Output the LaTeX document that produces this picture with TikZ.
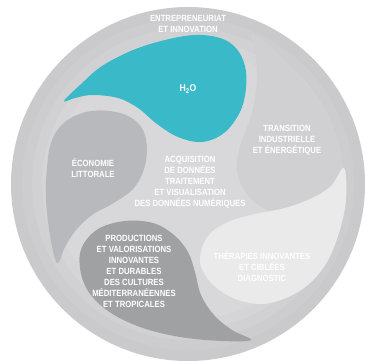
\documentclass[tikz,border=0pt]{standalone}
\usepackage{fontspec}
\setmainfont{Liberation Sans}[FakeStretch=0.86]
\definecolor{tealblob}{RGB}{58,186,201}
\definecolor{econblob}{RGB}{184,185,188}
\definecolor{prodblob}{RGB}{160,161,163}
\definecolor{therablob}{RGB}{234,234,235}
\definecolor{transblob}{RGB}{208,208,210}
\definecolor{ringa}{RGB}{202,202,204}
\definecolor{ringb}{RGB}{205,205,207}
\definecolor{ringc}{RGB}{209,209,211}
\definecolor{ringd}{RGB}{213,213,215}
\definecolor{ringe}{RGB}{216,216,218}
\tikzset{
  lbl/.style={text=white, align=center, inner sep=0pt, font=\fontsize{9}{11}\selectfont\bfseries}
}
\begin{document}
\begin{tikzpicture}[x=1pt,y=-1pt]
\useasboundingbox (0,0) rectangle (365,362);
\coordinate (O) at (188,184);
% outer disc with gently lighter centre
\fill[ringa] (O) circle (177);
\fill[ringb] (O) circle (166);
\fill[ringc] (O) circle (156);
\fill[ringd] (O) circle (146);
\fill[ringe] (O) circle (136);
% transition blob (right, tail up)
\fill[transblob] plot[smooth cycle, tension=0.6] coordinates {
  (252,34) (272,48) (295,72) (318,102) (334,132) (341,160) (336,186)
  (318,206) (292,215) (265,209) (246,193) (237,170) (240,146) (249,122)
  (255,98) (257,72) (255,50)};
% teal blob (top, tail left)
\fill[tealblob] plot[smooth cycle, tension=0.6] coordinates {
  (64,101) (80,85) (102,66) (133,50) (165,40) (195,35) (220,38) (236,48)
  (245,66) (246,88) (240,112) (224,133) (202,142) (178,137) (157,124)
  (138,108) (118,98) (92,95) (75,98)};
% economie blob (left, tail down)
\fill[econblob] plot[smooth cycle, tension=0.6] coordinates {
  (57,263) (50,235) (46,200) (47,167) (52,140) (65,122) (86,112) (110,111)
  (130,117) (143,130) (147,150) (143,172) (132,190) (112,204) (92,215)
  (76,230) (65,247)};
% productions blob (bottom left, tail right)
\fill[prodblob] plot[smooth cycle, tension=0.6] coordinates {
  (82,247) (98,229) (125,221) (153,223) (174,235) (188,252) (195,272)
  (201,295) (214,315) (232,330) (251,340) (222,341) (180,337) (140,327)
  (108,311) (88,291) (80,268)};
% therapies blob (bottom right, tail up)
\fill[therablob] plot[smooth cycle, tension=0.6] coordinates {
  (200,258) (208,236) (228,222) (255,214) (285,208) (312,198) (331,186)
  (344,168) (346,200) (339,233) (327,262) (309,284) (286,298) (262,304)
  (238,300) (218,289) (205,275)};
% labels
\node[lbl] (entre) at (188,24) {ENTREPRENEURIAT\\ET INNOVATION};
\node[lbl, font=\fontsize{10}{12}\selectfont\bfseries] (h2o) at (188,89) {H\textsubscript{2}O};
\node[lbl] (trans) at (287,140) {TRANSITION\\INDUSTRIELLE\\ET ÉNERGÉTIQUE};
\node[lbl] (econ) at (93,168) {ÉCONOMIE\\LITTORALE};
\node[lbl] (acq) at (190,182) {ACQUISITION\\DE DONNÉES\\TRAITEMENT\\ET VISUALISATION\\DES DONNÉES NUMÉRIQUES};
\node[lbl] (prod) at (134,271) {PRODUCTIONS\\ET VALORISATIONS\\INNOVANTES\\ET DURABLES\\DES CULTURES\\MÉDITERRANÉENNES\\ET TROPICALES};
\node[lbl] (thera) at (262,267) {THÉRAPIES INNOVANTES\\ET CIBLÉES\\DIAGNOSTIC};
\end{tikzpicture}
\end{document}
